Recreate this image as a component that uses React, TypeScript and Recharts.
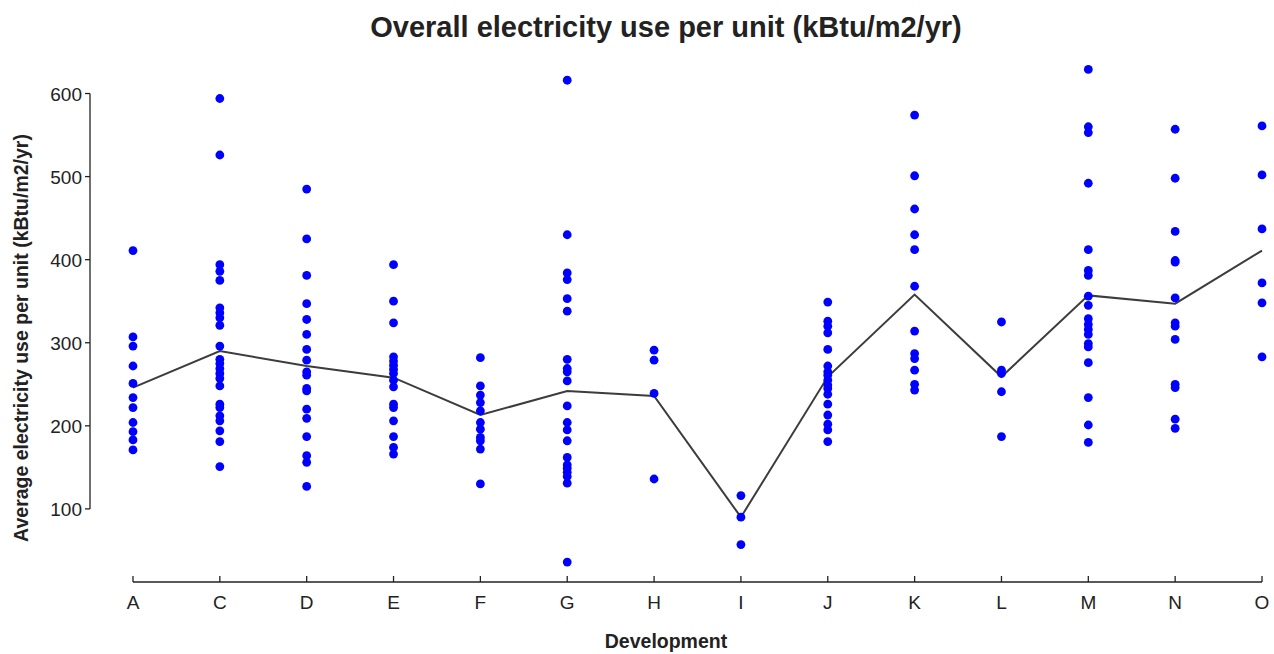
import { ComposedChart, Scatter, Line, XAxis, YAxis, ReferenceLine } from 'recharts'

const categories = ['A', 'C', 'D', 'E', 'F', 'G', 'H', 'I', 'J', 'K', 'L', 'M', 'N', 'O']

// electricity use per unit, one array per development
const devA = [411, 307, 296, 272, 251, 234, 222, 204, 193, 183, 171]
const devC = [594, 526, 394, 386, 375, 342, 336, 330, 321, 296, 280, 275, 269, 263, 257, 248, 226, 222, 212, 206, 194, 181, 151]
const devD = [485, 425, 381, 347, 328, 310, 292, 279, 265, 261, 245, 242, 220, 209, 187, 164, 156, 127]
const devE = [394, 350, 324, 283, 278, 273, 268, 263, 255, 247, 226, 222, 206, 187, 174, 166]
const devF = [282, 248, 237, 228, 218, 204, 196, 186, 182, 172, 130]
const devG = [616, 430, 384, 376, 353, 338, 280, 269, 265, 254, 224, 204, 195, 182, 162, 153, 149, 144, 139, 131, 36]
const devH = [291, 279, 239, 136]
const devI = [116, 90, 57]
const devJ = [349, 326, 320, 312, 292, 272, 265, 261, 255, 249, 245, 238, 226, 213, 202, 195, 181]
const devK = [574, 501, 461, 430, 412, 368, 314, 287, 281, 267, 250, 243]
const devL = [325, 267, 263, 241, 187]
const devM = [629, 560, 553, 492, 412, 387, 381, 356, 345, 329, 322, 316, 310, 299, 295, 276, 234, 201, 180]
const devN = [557, 498, 434, 399, 397, 354, 324, 320, 304, 250, 246, 208, 197]
const devO = [561, 502, 437, 372, 348, 283]

const devValues = [devA, devC, devD, devE, devF, devG, devH, devI, devJ, devK, devL, devM, devN, devO]

const meanValues = [246, 290, 272, 258, 213, 242, 236, 90, 259, 358, 259, 357, 347, 411]

const yTicks = [100, 200, 300, 400, 500, 600]

const points = categories.flatMap((c, i) => devValues[i].map((v) => ({ x: i + 1, y: v, dev: c })))
const meanData = meanValues.map((m, i) => ({ x: i + 1, mean: m }))

const FONT = '"Liberation Sans", Arial, sans-serif'
const INK = '#222'

const XTick = (props: any) => {
  const { x, y, payload } = props
  return (
    <g>
      <line x1={x} x2={x} y1={y} y2={y - 6} stroke={INK} strokeWidth={1.3} />
      <text x={x} y={y + 27} textAnchor="middle" fontSize={19} fontFamily={FONT} fill={INK}>
        {categories[payload.value - 1]}
      </text>
    </g>
  )
}

const YTick = (props: any) => {
  const { x, y, payload } = props
  return (
    <g>
      <line x1={x - 5} x2={x} y1={y} y2={y} stroke={INK} strokeWidth={1.3} />
      <text x={x - 8} y={y + 7} textAnchor="end" fontSize={19} fontFamily={FONT} fill={INK}>
        {payload.value}
      </text>
    </g>
  )
}

const Dot = (props: any) => <circle cx={props.cx} cy={props.cy} r={4.4} fill="#0000ff" />

export default function App() {
  return (
    <div style={{ position: 'fixed', left: 0, top: 0, width: 1274, height: 654, overflow: 'hidden', background: '#fff' }}>
      <ComposedChart width={1274} height={654} margin={{ top: 47, right: 6, bottom: 42, left: 0 }}>
        <XAxis
          dataKey="x"
          type="number"
          domain={[0.505, 14.069]}
          allowDataOverflow
          ticks={categories.map((_, i) => i + 1)}
          interval={0}
          height={30}
          axisLine={false}
          tickLine={false}
          tickSize={0}
          tickMargin={0}
          tick={<XTick />}
        />
        <YAxis
          type="number"
          domain={[12, 656]}
          allowDataOverflow
          ticks={yTicks}
          interval={0}
          width={90}
          axisLine={false}
          tickLine={false}
          tickSize={0}
          tickMargin={0}
          tick={<YTick />}
        />
        <ReferenceLine segment={[{ x: 1, y: 12 }, { x: 14, y: 12 }]} stroke={INK} strokeWidth={1.3} ifOverflow="visible" />
        <ReferenceLine segment={[{ x: 0.505, y: 100 }, { x: 0.505, y: 600 }]} stroke={INK} strokeWidth={1.3} ifOverflow="visible" />
        <Scatter data={points} dataKey="y" shape={<Dot />} isAnimationActive={false} />
        <Line data={meanData} dataKey="mean" type="linear" stroke="#3c3c3c" strokeWidth={2} dot={false} isAnimationActive={false} />
      </ComposedChart>
      <svg width={1274} height={654} style={{ position: 'absolute', left: 0, top: 0, pointerEvents: 'none' }}>
        <text x={666} y={37} textAnchor="middle" fontSize={29} fontWeight="bold" fontFamily={FONT} fill={INK}>
          Overall electricity use per unit (kBtu/m2/yr)
        </text>
        <text x={666} y={648} textAnchor="middle" fontSize={19.5} fontWeight="bold" fontFamily={FONT} fill={INK}>
          Development
        </text>
        <text
          transform="translate(28, 338) rotate(-90)"
          textAnchor="middle"
          fontSize={19.5}
          fontWeight="bold"
          fontFamily={FONT}
          fill={INK}
        >
          Average electricity use per unit (kBtu/m2/yr)
        </text>
      </svg>
    </div>
  )
}
